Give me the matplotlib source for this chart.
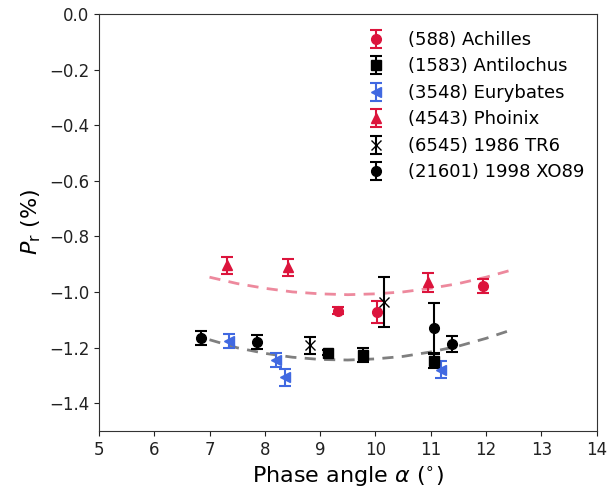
import matplotlib
matplotlib.use("Agg")
import matplotlib.pyplot as plt

# Data
achilles_x = [9.33, 10.03, 11.94]
achilles_y = [-1.068, -1.072, -0.978]
achilles_e = [0.012, 0.04, 0.025]

antilochus_x = [9.15, 9.77, 11.06]
antilochus_y = [-1.218, -1.228, -1.248]
antilochus_e = [0.01, 0.025, 0.025]

eurybates_x = [7.36, 8.21, 8.37, 11.18]
eurybates_y = [-1.177, -1.245, -1.307, -1.28]
eurybates_e = [0.025, 0.025, 0.03, 0.03]

phoinix_x = [7.32, 8.42, 10.95]
phoinix_y = [-0.905, -0.912, -0.966]
phoinix_e = [0.03, 0.03, 0.035]

tr6_x = [8.81, 10.15]
tr6_y = [-1.192, -1.036]
tr6_e = [0.03, 0.09]

xo89_x = [6.84, 7.85, 11.06, 11.39]
xo89_y = [-1.167, -1.18, -1.13, -1.187]
xo89_e = [0.025, 0.025, 0.09, 0.03]

# Fitted curves
fit_x = [7.0, 7.5, 8.0, 8.5, 9.0, 9.5, 10.0, 10.5, 11.0, 11.5, 12.0, 12.5]
fit_red_y = [-0.947, -0.970, -0.987, -1.000, -1.007, -1.010, -1.007, -1.000, -0.987, -0.970, -0.947, -0.919]
fit_grey_y = [-1.172, -1.201, -1.221, -1.235, -1.243, -1.245, -1.241, -1.232, -1.216, -1.195, -1.167, -1.134]

labels = ["(588) Achilles", "(1583) Antilochus", "(3548) Eurybates",
          "(4543) Phoinix", "(6545) 1986 TR6", "(21601) 1998 XO89"]

red = "#dc143c"
blue = "#4169e1"

fig = plt.figure(figsize=(6.14, 4.97), dpi=100)
ax = fig.add_axes([0.161, 0.133, 0.811, 0.839])

ax.plot(fit_x, fit_red_y, ls=(0, (4, 3)), color=red, alpha=0.5, lw=2, zorder=1)
ax.plot(fit_x, fit_grey_y, ls=(0, (4, 3)), color="black", alpha=0.5, lw=2, zorder=1)

kw = dict(ls="none", ms=7, capsize=4, elinewidth=1.5, capthick=1.5, zorder=3)
ax.errorbar(achilles_x, achilles_y, yerr=achilles_e, fmt="o", color=red, label=labels[0], **kw)
ax.errorbar(antilochus_x, antilochus_y, yerr=antilochus_e, fmt="s", color="black", label=labels[1], **kw)
ax.errorbar(eurybates_x, eurybates_y, yerr=eurybates_e, fmt="<", color=blue, label=labels[2], **kw)
ax.errorbar(phoinix_x, phoinix_y, yerr=phoinix_e, fmt="^", color=red, label=labels[3], **kw)
ax.errorbar(tr6_x, tr6_y, yerr=tr6_e, fmt="x", color="black", label=labels[4], **kw)
ax.errorbar(xo89_x, xo89_y, yerr=xo89_e, fmt="o", color="black", label=labels[5], **kw)

ax.set_xlim(5, 14)
ax.set_ylim(-1.5, 0.0)
ax.set_xticks(range(5, 15))
ax.set_yticks([0.0, -0.2, -0.4, -0.6, -0.8, -1.0, -1.2, -1.4])
ax.tick_params(labelsize=12, colors="#222222")
for s in ax.spines.values():
    s.set_color("#333333")

ax.set_xlabel("Phase angle $\\alpha$ ($^{\\circ}$)", fontsize=16)
ax.set_ylabel("$P_\\mathrm{r}$ (%)", fontsize=16)

ax.legend(loc="upper right", frameon=False, fontsize=13, handlelength=1.0,
          handletextpad=1.3, labelspacing=0.47, bbox_to_anchor=(1.008, 0.998))

fig.savefig("out.png", dpi=100)
